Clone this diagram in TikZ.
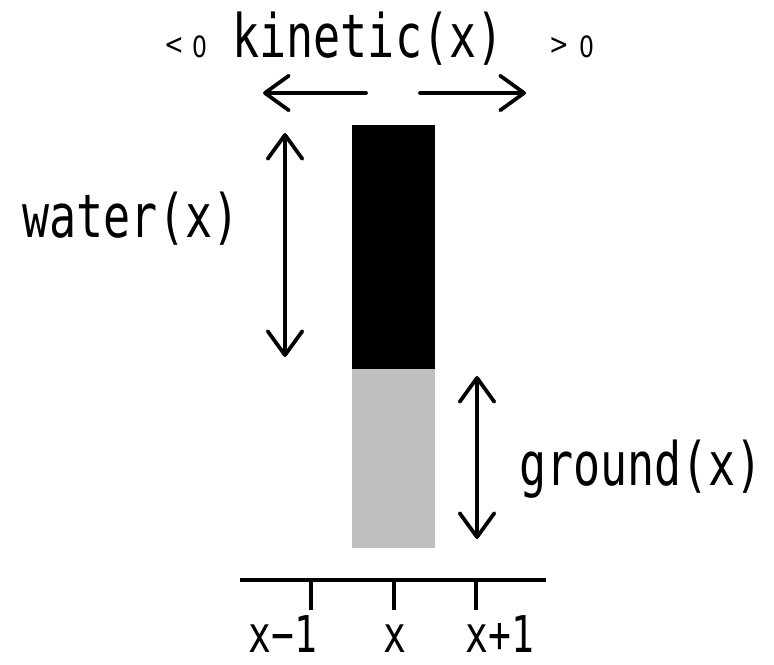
\documentclass[tikz,border=0pt]{standalone}
\usepackage{fontspec}
\setmainfont{DejaVu Sans}
\newfontfamily\labfont[FakeStretch=0.75]{DejaVu Sans Mono}
\newfontfamily\digfont[FakeStretch=0.8]{DejaVu Sans}
\usetikzlibrary{arrows.meta}
\definecolor{groundgray}{RGB}{191,191,191}
\tikzset{
  lab/.style={font=\labfont\fontsize{45pt}{50pt}\selectfont, inner sep=0pt, outer sep=0pt, anchor=base},
  axlab/.style={font=\labfont\fontsize{38pt}{42pt}\selectfont, inner sep=0pt, outer sep=0pt, anchor=base},
  small/.style={font=\digfont\fontsize{22pt}{24pt}\selectfont, inner sep=0pt, outer sep=0pt, anchor=base},
  arr/.style={line width=2.8pt, line cap=round, line join=round,
    -{Straight Barb[length=18pt, width=26pt, line cap=round, line join=round]}},
  darr/.style={line width=2.8pt, line cap=round, line join=round,
    {Straight Barb[length=18pt, width=26pt, line cap=round, line join=round]}-{Straight Barb[length=18pt, width=26pt, line cap=round, line join=round]}},
  axis/.style={line width=3.2pt},
}
\begin{document}
\begin{tikzpicture}[x=0.75pt, y=-0.75pt]
\useasboundingbox (0,0) rectangle (774,664);
% column
\fill[black] (352,125) rectangle (435,369);
\fill[groundgray] (352,369) rectangle (435,548);
% labels
\node[lab] (kin) at (368,57) {kinetic(x)};
\node[small] (lt) at (174,54) {<};
\node[small] (lz) at (199.5,57) {0};
\node[small] (gt) at (559.5,54) {>};
\node[small] (gz) at (586.5,57) {0};
\node[lab] (wat) at (131,237) {water(x)};
\node[lab] (gro) at (641,485) {ground(x)};
\node[axlab] (xm) at (283,652) {x−1};
\node[axlab] (x0) at (394.5,652) {x};
\node[axlab] (xp) at (500,652) {x+1};
% kinetic arrows
\coordinate (la) at (366,93);
\coordinate (lb) at (263,93);
\coordinate (ra) at (420,93);
\coordinate (rb) at (526,93);
\draw[arr] (la) -- (lb);
\draw[arr] (ra) -- (rb);
% water arrow
\coordinate (wa) at (285,133);
\coordinate (wb) at (285,357);
\draw[darr] (wa) -- (wb);
% ground arrow
\coordinate (ga) at (477,376);
\coordinate (gb) at (477,539);
\draw[darr] (ga) -- (gb);
% axis
\coordinate (axl) at (240,580);
\coordinate (axr) at (546,580);
\draw[axis] (axl) -- (axr);
\coordinate (t1) at (311,580);
\coordinate (t2) at (394,580);
\coordinate (t3) at (476,580);
\draw[axis] (t1) -- ++(0,30);
\draw[axis] (t2) -- ++(0,30);
\draw[axis] (t3) -- ++(0,30);
\end{tikzpicture}
\end{document}
